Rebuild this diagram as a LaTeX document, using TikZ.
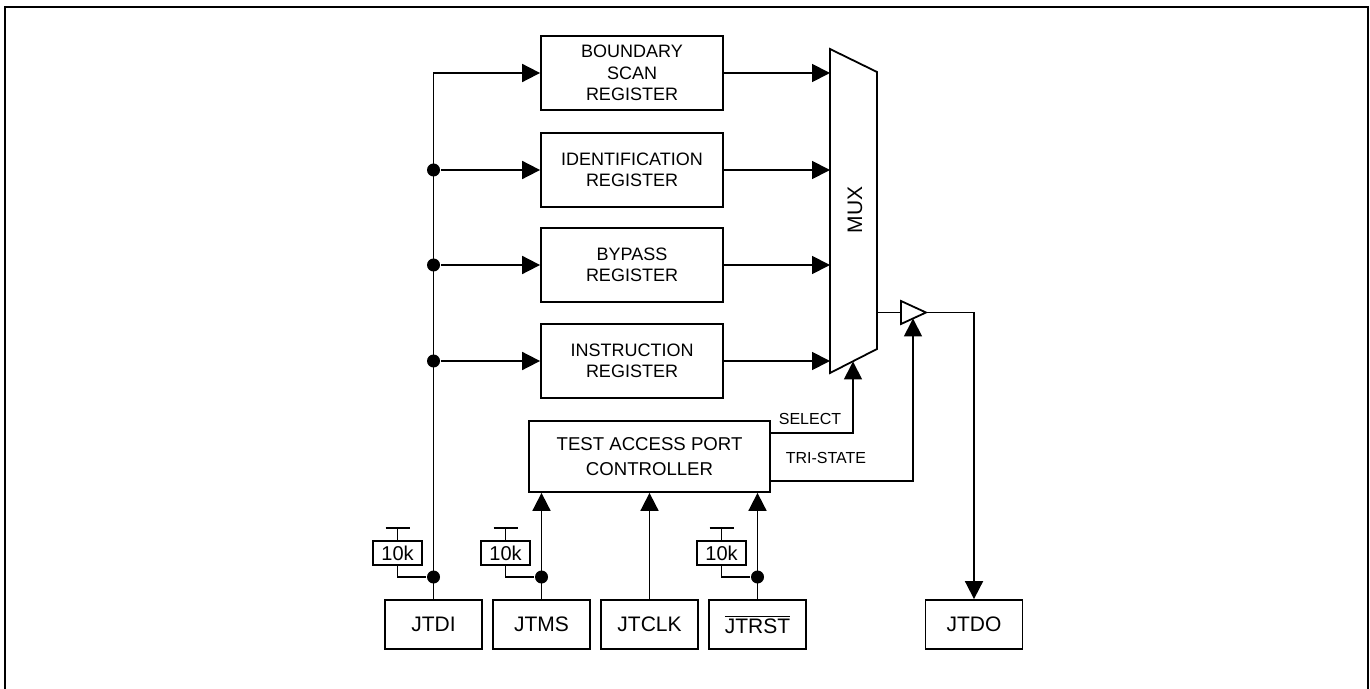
\documentclass[tikz,border=0pt]{standalone}
\usepackage{fontspec}
\setmainfont{Liberation Sans}
\usetikzlibrary{arrows.meta}

\tikzstyle{reg} = [draw, line width=0.9pt, minimum width=91pt, minimum height=37pt, align=center, inner sep=0pt, font=\fontsize{9}{10.8}\selectfont]
\tikzstyle{pinbox} = [draw, line width=0.9pt, minimum width=48.5pt, minimum height=24.5pt, inner sep=0pt, font=\fontsize{10.5}{12}\selectfont]
\tikzstyle{res} = [draw, line width=0.9pt, minimum width=24.5pt, minimum height=12pt, inner sep=0pt, font=\fontsize{10}{12}\selectfont]
\tikzstyle{jdot} = [circle, minimum width=6.5pt, fill, inner sep=0pt]
\tikzstyle{sig} = [inner sep=0pt, font=\fontsize{8}{9.6}\selectfont]

\begin{document}
\begin{tikzpicture}[x=0.5pt, y=-0.5pt, line width=0.9pt,
	>={Triangle[length=9pt,width=9pt]}]
\useasboundingbox (0,0) rectangle (1370,689);
% frame, open at the bottom
\draw[line width=1.3pt] (5,689) -- (5,7) -- (1368,7) -- (1368,689);

% registers
\node [reg] (bsr) at (632,73) {BOUNDARY\\SCAN\\REGISTER};
\node [reg] (idr) at (632,170) {IDENTIFICATION\\REGISTER};
\node [reg] (byr) at (632,265) {BYPASS\\REGISTER};
\node [reg] (inr) at (632,361) {INSTRUCTION\\REGISTER};
\node [reg, minimum width=120.5pt, minimum height=35.5pt,
	font=\fontsize{9.3}{12.5}\selectfont] (tap) at (649.5,456.5)
	{TEST ACCESS PORT\\CONTROLLER};

% pins
\node [pinbox] (jtdi) at (433.5,624.5) {JTDI};
\node [pinbox] (jtms) at (541.5,624.5) {JTMS};
\node [pinbox] (jtclk) at (649.5,624.5) {JTCLK};
\node [pinbox] (jtrst) at (757.5,624.5) {$\overline{\mbox{JTRST}}$};
\node [pinbox] (jtdo) at (974,624.5) {JTDO};

% mux
\coordinate (m1) at (830,49);
\coordinate (m2) at (877,72);
\coordinate (m3) at (877,349);
\coordinate (m4) at (830,373);
\draw (m1) -- (m2) -- (m3) -- (m4) -- cycle;
\node [rotate=90, inner sep=0pt, font=\fontsize{10.5}{12}\selectfont] (mux) at (855,210) {MUX};

% output buffer
\coordinate (b1) at (901,301);
\coordinate (b2) at (901,324);
\coordinate (b3) at (926,312.5);
\draw (b1) -- (b3) -- (b2) -- cycle;
\coordinate (mo) at (877,312.5);
\draw (mo) -- (mo -| b1);
\draw[->] (b3) -| (jtdo.north);

% data in bus
\draw[->] (jtdi.north) |- (bsr.west);
\foreach \r in {idr,byr,inr} {
	\node [jdot] (d\r) at (jtdi.north |- \r.west) {};
	\draw[->] (d\r) -- (\r.west);
}
\foreach \r in {bsr,idr,byr,inr}
	\draw[->] (\r.east) -- (\r.east -| m1);

% control
\coordinate (sel) at (853,361.5);
\coordinate (ts) at (913,318.5);
\draw[->] (tap.east |- 0,433) -| (sel);
\draw[->] (tap.east |- 0,481) -| (ts);
\node [sig] (sell) at (810,419) {SELECT};
\node [sig] (tsl) at (826,458) {TRI-STATE};

\foreach \p in {jtms,jtclk,jtrst}
	\draw[->] (\p.north) -- (\p.north |- tap.south);

% pull-ups
\foreach \p/\x in {jtdi/433.5, jtms/541.5, jtrst/757.5} {
	\node [res] (r\p) at (\x-36,553) {10k};
	\node [jdot] (j\p) at (\x,577) {};
	\draw (r\p.south) |- (j\p);
	\draw (r\p.north) -- ++(0,-12) coordinate (t\p);
	\draw ([xshift=-6pt]t\p) -- ([xshift=6pt]t\p);
}
\end{tikzpicture}
\end{document}
